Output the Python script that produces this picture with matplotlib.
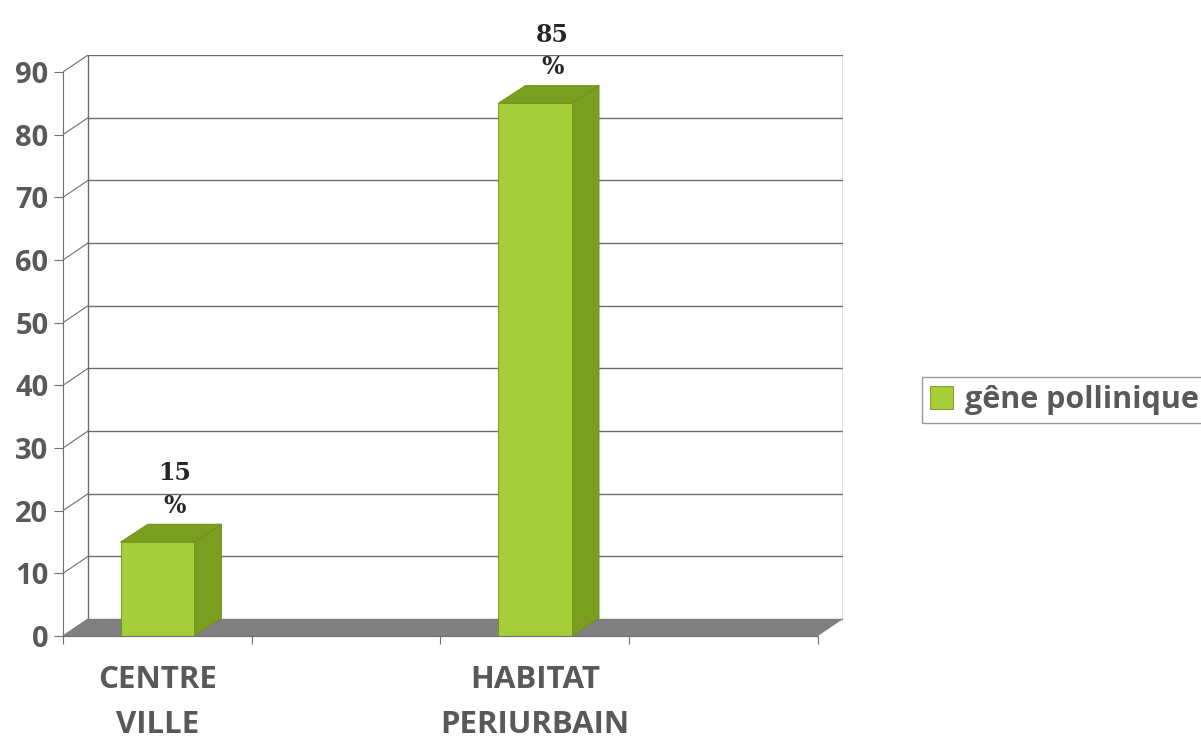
import matplotlib
matplotlib.use("Agg")
import matplotlib.pyplot as plt

# data
categories = ["CENTRE\nVILLE", "", "HABITAT\nPERIURBAIN", ""]
values = [15, None, 85, None]
series_name = "gêne pollinique"
yticks = list(range(0, 100, 10))

# look
FRONT = "#a6ce39"
SIDE = "#7b9e20"
EDGE = "#6f8f1c"
GRID = "#6e6e6e"
TXT = "#595959"
SANS = "Open Sans"
SERIF = "DejaVu Serif"

W, H = 1201, 740
DX, DY = 0.1325, 2.71          # depth of the wall / floor (data units)
BDX, BDY = 0.145, 2.85         # depth of the bars
BAR_W = 0.39

fig = plt.figure(figsize=(W / 100, H / 100), dpi=100)
ax = fig.add_axes([63 / W, (H - 636) / H, 780 / W, 581 / H])
ax.set_xlim(0, len(categories) + DX)
ax.set_ylim(0, yticks[-1] + DY)
ax.patch.set_visible(False)
n = len(categories)

# floor
ax.fill([0, n, n + DX, DX], [0, 0, DY, DY], color="#808080", zorder=1, lw=0)

# back wall grid + side wall lines
for v in yticks:
    ax.plot([DX, n + DX], [v + DY, v + DY], color=GRID, lw=1, zorder=0.5)
    ax.plot([0, DX], [v, v + DY], color=GRID, lw=0.8, zorder=0.5)
ax.plot([DX, DX], [DY, yticks[-1] + DY], color=GRID, lw=1, zorder=0.5)
ax.plot([n + DX, n + DX], [DY, yticks[-1] + DY], color=GRID, lw=1, zorder=0.5)

# bars (front face) + 3d top and side
xs = [i + 0.5 for i, v in enumerate(values) if v is not None]
hs = [v for v in values if v is not None]
bars = ax.bar(xs, hs, width=BAR_W, color=FRONT, edgecolor=EDGE, lw=0.6,
              zorder=3, label=series_name)
for x, h in zip(xs, hs):
    x0, x1 = x - BAR_W / 2, x + BAR_W / 2
    ax.fill([x1, x1 + BDX, x1 + BDX, x1], [0, BDY, h + BDY, h],
            color=SIDE, ec=EDGE, lw=0.6, zorder=2.9)
    ax.fill([x0, x1, x1 + BDX, x0 + BDX], [h, h, h + BDY, h + BDY],
            color=SIDE, ec=EDGE, lw=0.6, zorder=2.9)
    ax.text(x + BDX / 2 + 0.02, h + BDY + 1.0, f"{h}\n%", ha="center", va="bottom",
            family=SERIF, weight="bold", fontsize=17, color="#262626",
            linespacing=1.45, zorder=5)

# axes
for s in ["top", "right"]:
    ax.spines[s].set_visible(False)
ax.spines["left"].set_bounds(0, yticks[-1])
ax.spines["bottom"].set_bounds(0, n)
for s in ["left", "bottom"]:
    ax.spines[s].set_color(GRID)
    ax.spines[s].set_zorder(4)
ax.set_yticks(yticks)
ax.set_yticklabels([str(t) for t in yticks], family=SANS, weight="bold",
                   fontsize=21, color=TXT)
ax.tick_params(axis="y", length=6.5, color=GRID, pad=4)
ax.set_xticks(range(n + 1))
ax.set_xticklabels([])
ax.set_xticks([i + 0.5 for i in range(n)], minor=True)
ax.set_xticklabels(categories, minor=True, family=SANS, weight="bold",
                   fontsize=22.5, color=TXT, linespacing=1.65)
ax.tick_params(axis="x", which="major", length=6, color=GRID)
ax.tick_params(axis="x", which="minor", length=0, pad=21)

leg = fig.legend(handles=[bars], labels=[series_name], loc="center left",
                 bbox_to_anchor=(922 / W, 1 - 400 / H), frameon=True,
                 fancybox=False, edgecolor="#808080",
                 prop={"family": SANS, "weight": "bold", "size": 22},
                 handlelength=0.75, handleheight=0.75, handletextpad=0.4,
                 borderpad=0.25, borderaxespad=0)
for t in leg.get_texts():
    t.set_color(TXT)

fig.savefig("out.png", dpi=100)
